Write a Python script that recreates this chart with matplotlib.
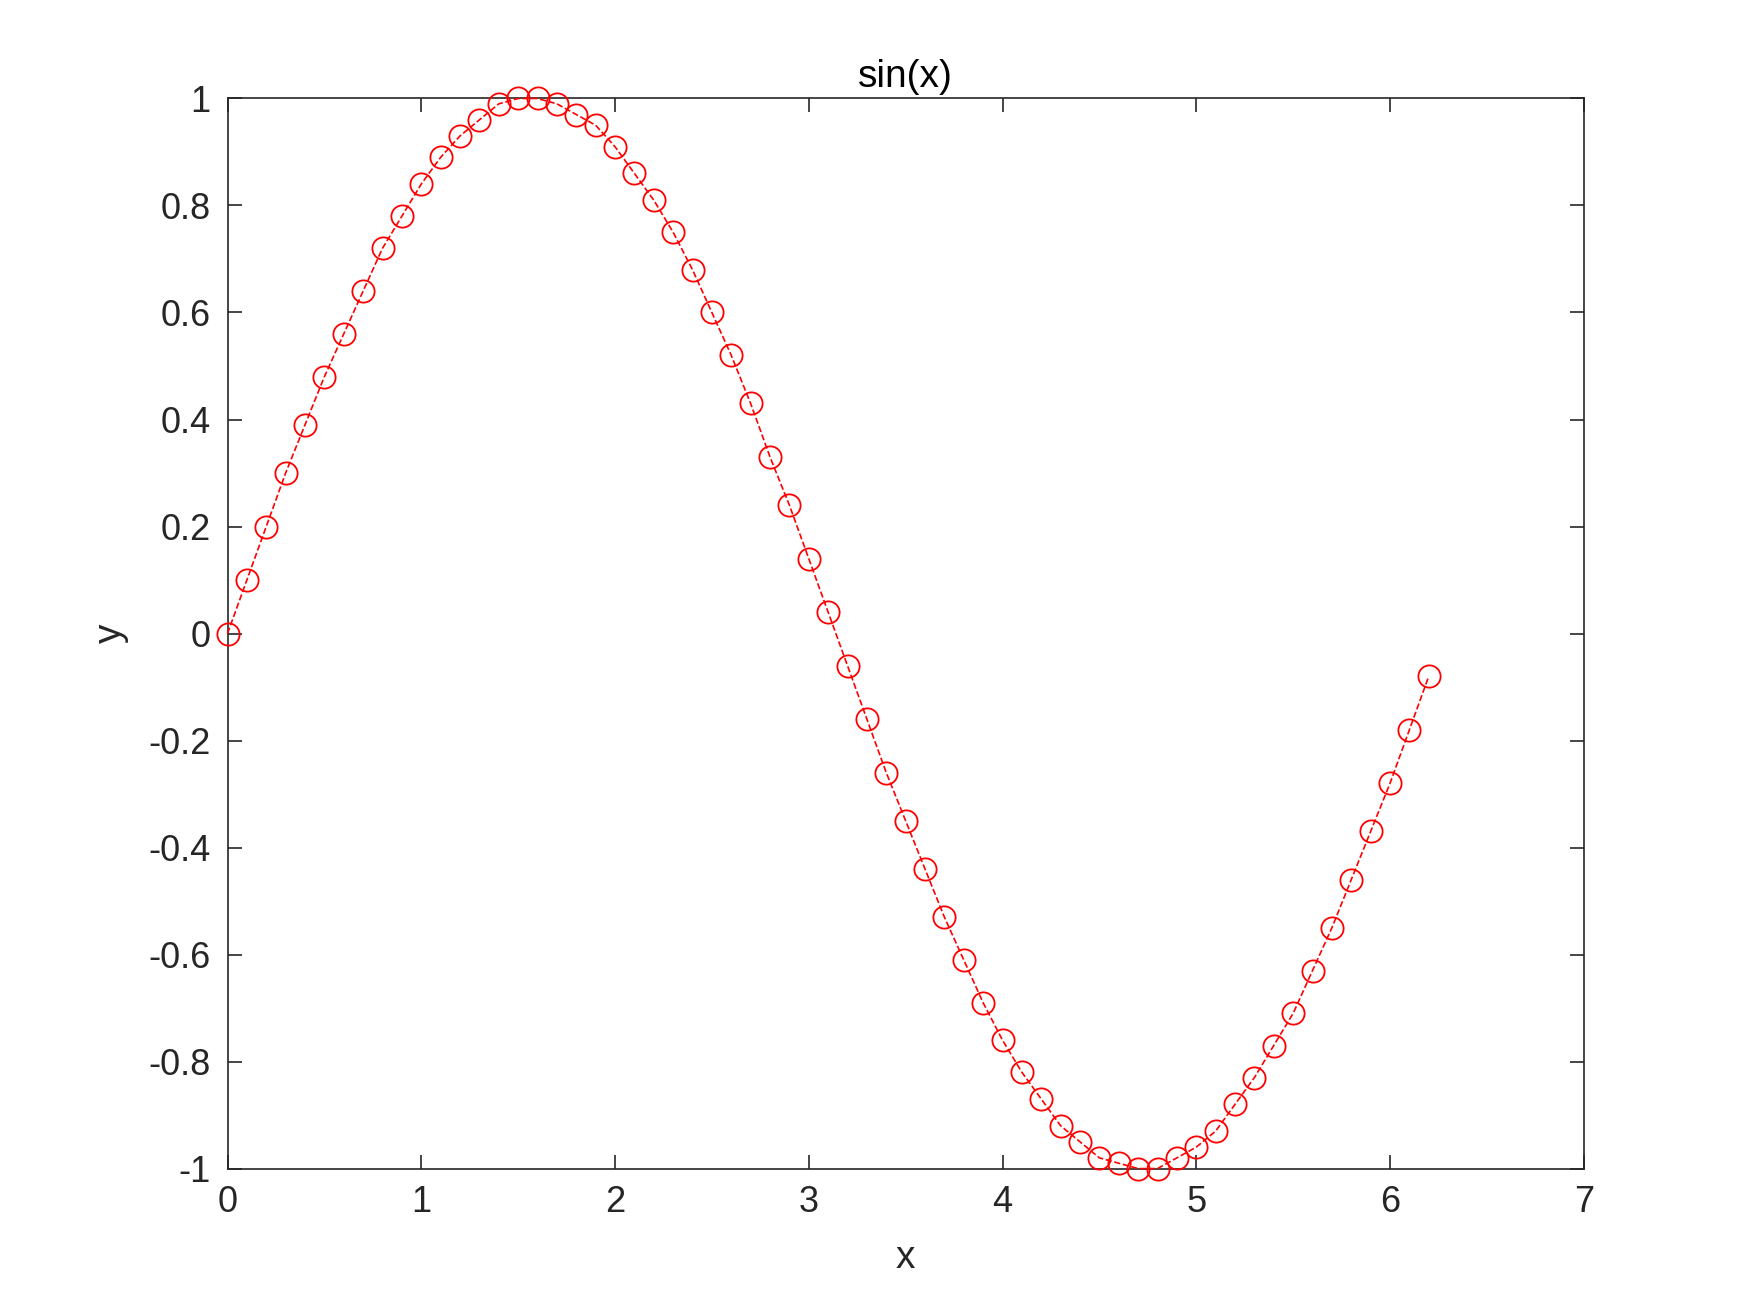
import numpy as np
from matplotlib import pyplot as plt

plt.rcParams['font.family'] = ['Liberation Sans', 'DejaVu Sans']

# x = 0:0.1:6.2
x = np.round(np.arange(63) * 0.1, 1)
y = [0.00, 0.10, 0.20, 0.30, 0.39, 0.48, 0.56, 0.64, 0.72, 0.78,
     0.84, 0.89, 0.93, 0.96, 0.99, 1.00, 1.00, 0.99, 0.97, 0.95,
     0.91, 0.86, 0.81, 0.75, 0.68, 0.60, 0.52, 0.43, 0.33, 0.24,
     0.14, 0.04, -0.06, -0.16, -0.26, -0.35, -0.44, -0.53, -0.61, -0.69,
     -0.76, -0.82, -0.87, -0.92, -0.95, -0.98, -0.99, -1.00, -1.00, -0.98,
     -0.96, -0.93, -0.88, -0.83, -0.77, -0.71, -0.63, -0.55, -0.46, -0.37,
     -0.28, -0.18, -0.08]

fig = plt.figure(figsize=(17.5, 13.13), dpi=100)
ax = fig.add_axes([0.13, 0.11, 0.775, 0.815])
ax.plot(x, y, 'r--o', markerfacecolor='none', markersize=16, linewidth=1.2,
        markeredgewidth=1.3, clip_on=False, zorder=3)

ax.set_xlim(0, 7)
ax.set_ylim(-1, 1)
ax.set_xticks(range(8))
ax.set_yticks(np.round(np.arange(-1, 1.01, 0.2), 1))
ax.set_yticklabels(['-1', '-0.8', '-0.6', '-0.4', '-0.2', '0', '0.2', '0.4', '0.6', '0.8', '1'])

col = '#262626'
for s in ax.spines.values():
    s.set_color(col)
    s.set_linewidth(1.2)
ax.tick_params(direction='in', top=True, right=True, length=10, width=1.2,
               colors=col, labelsize=26, pad=12)
ax.set_xlabel('x', fontsize=28, color=col, labelpad=14)
ax.set_ylabel('y', fontsize=28, color=col, labelpad=14)
ax.set_title('sin(x)', fontsize=28, color='black', pad=8)

plt.savefig('out.png')
